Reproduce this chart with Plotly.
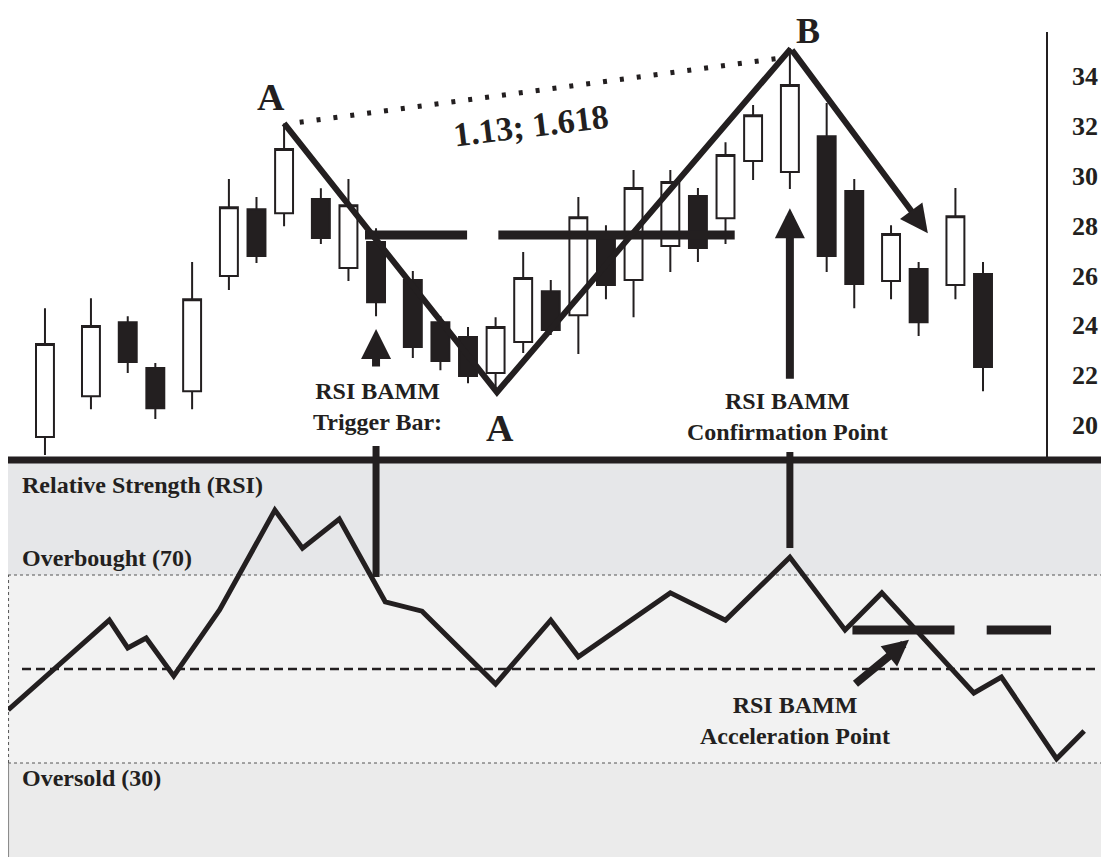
import plotly.graph_objects as go

INK = '#231f20'
FONT = 'Times New Roman, Liberation Serif, serif'

# candles: day index, open, high, low, close
days = [0, 5, 9, 12, 16, 20, 23, 26, 30, 33, 36, 40, 43, 46, 49, 52,
        55, 58, 61, 64, 68, 71, 74, 77, 81, 85, 88, 92, 95, 99, 102]
opens = [19.52, 21.16, 24.13, 22.29, 21.36, 25.98, 28.66, 28.50, 29.07, 26.30, 27.34,
         25.82, 24.13, 23.53, 22.09, 23.33, 25.37, 24.41, 27.74, 25.82, 27.18, 29.19,
         28.30, 30.59, 30.15, 31.59, 29.39, 25.78, 26.26, 25.62, 26.06]
highs = [24.69, 25.09, 24.37, 22.49, 26.54, 29.87, 29.15, 32.10, 29.50, 29.87, 27.90,
         26.18, 24.37, 23.93, 24.33, 26.94, 25.82, 29.15, 28.02, 30.23, 30.23, 29.51,
         31.35, 32.84, 35.12, 32.92, 29.87, 28.02, 26.54, 29.51, 26.54]
lows = [18.80, 20.64, 22.09, 20.24, 20.64, 25.42, 26.50, 27.98, 27.26, 25.78, 24.37,
        22.69, 22.20, 21.68, 21.50, 22.89, 23.61, 22.85, 25.05, 24.33, 26.14, 26.54,
        27.26, 29.83, 29.47, 26.14, 24.69, 25.05, 23.57, 25.05, 21.36]
closes = [23.25, 23.97, 22.53, 20.68, 25.05, 28.74, 26.78, 31.07, 27.50, 28.82, 24.93,
          23.13, 22.57, 21.97, 23.93, 25.90, 23.81, 28.34, 25.62, 29.51, 29.75, 27.10,
          30.83, 32.43, 33.64, 26.78, 25.66, 27.66, 24.13, 28.38, 22.33]
price_ticks = [20, 22, 24, 26, 28, 30, 32, 34]

# RSI line
rsi_days = [-4, 7, 9, 11, 14, 19, 25, 28, 32, 37, 41, 49, 55, 58, 68, 74,
            81, 87, 91, 101, 104, 110, 113]
rsi_vals = [41.3, 60.4, 54.5, 56.6, 48.5, 62.6, 83.8, 75.7, 81.9, 64.3, 62.3, 46.8,
            60.4, 52.6, 66.2, 60.4, 73.8, 58.3, 66.2, 44.9, 48.3, 30.9, 36.8]
overbought, oversold, midline = 70, 30, 50

# pattern points (A - A - B) and guide levels
pattern_x = [26, 49.15, 81.1]
pattern_y = [32.1, 21.32, 35.1]
ratio_x = [27.7, 79.9]
ratio_y = [32.15, 34.72]
trigger_level = 27.62
trigger_x = [34.8, 45.9, None, 49.3, 75.0]
accel_level = 58.3
accel_x = [87.8, 98.9, None, 102.4, 109.4]

# page body has an 8px margin, so the figure sits at (8, 8)
W, H = 1101, 849


def px(x):
    return (x - 8) / W


def py(y):
    return (857 - y) / H


xr = [-4.02, 115.70]
split = py(460)

fig = go.Figure()

fig.add_trace(go.Candlestick(
    x=days, open=opens, high=highs, low=lows, close=closes,
    increasing=dict(line=dict(color=INK, width=2), fillcolor='white'),
    decreasing=dict(line=dict(color=INK, width=2), fillcolor=INK),
    whiskerwidth=0, xaxis='x', yaxis='y', hoverinfo='skip'))

fig.add_trace(go.Scatter(x=ratio_x, y=ratio_y, mode='lines',
                         line=dict(color=INK, width=5, dash='4px,13px'),
                         xaxis='x', yaxis='y', hoverinfo='skip'))
fig.add_trace(go.Scatter(x=trigger_x, y=[trigger_level if v is not None else None for v in trigger_x],
                         mode='lines', line=dict(color=INK, width=9),
                         xaxis='x', yaxis='y', hoverinfo='skip'))
fig.add_trace(go.Scatter(x=pattern_x, y=pattern_y, mode='lines',
                         line=dict(color=INK, width=6),
                         xaxis='x', yaxis='y', hoverinfo='skip'))

fig.add_trace(go.Scatter(x=rsi_days, y=rsi_vals, mode='lines',
                         line=dict(color=INK, width=5),
                         xaxis='x2', yaxis='y2', hoverinfo='skip'))
fig.add_trace(go.Scatter(x=accel_x, y=[accel_level if v is not None else None for v in accel_x],
                         mode='lines', line=dict(color=INK, width=9),
                         xaxis='x2', yaxis='y2', hoverinfo='skip'))

shapes = [
    dict(type='rect', xref='paper', yref='y2', x0=0, x1=1, y0=overbought, y1=94.5,
         fillcolor='#e6e7e9', line_width=0, layer='below'),
    dict(type='rect', xref='paper', yref='y2', x0=0, x1=1, y0=oversold, y1=overbought,
         fillcolor='#f2f2f2', line_width=0, layer='below'),
    dict(type='rect', xref='paper', yref='y2', x0=0, x1=1, y0=9, y1=oversold,
         fillcolor='#ebebeb', line_width=0, layer='below'),
    dict(type='line', xref='paper', yref='y2', x0=0, x1=1, y0=overbought, y1=overbought,
         line=dict(color='#555', width=1, dash='dot'), layer='below'),
    dict(type='line', xref='paper', yref='y2', x0=0, x1=1, y0=oversold, y1=oversold,
         line=dict(color='#555', width=1, dash='dot'), layer='below'),
    dict(type='line', xref='paper', yref='y2', x0=0.0005, x1=0.0005, y0=oversold, y1=overbought,
         line=dict(color='#555', width=1, dash='dot'), layer='below'),
    dict(type='line', xref='paper', yref='y2', x0=0.0005, x1=0.0005, y0=9, y1=oversold,
         line=dict(color='#888', width=1), layer='below'),
    dict(type='line', xref='paper', yref='y2', x0=px(22), x1=px(1099), y0=midline, y1=midline,
         line=dict(color=INK, width=2.5, dash='9px,5px'), layer='below'),
    dict(type='line', xref='paper', yref='paper', x0=0, x1=1, y0=split, y1=split,
         line=dict(color=INK, width=7)),
    dict(type='line', xref='paper', yref='paper', x0=px(1047), x1=px(1047),
         y0=split, y1=py(32), line=dict(color=INK, width=2)),
    dict(type='line', xref='x', yref='paper', x0=36, x1=36,
         y0=py(577), y1=py(446), line=dict(color=INK, width=7)),
    dict(type='line', xref='x', yref='paper', x0=81, x1=81,
         y0=py(548), y1=py(452), line=dict(color=INK, width=7)),
]


def arrow(x, y, ax, ay, width, size, xref='x', yref='y'):
    return dict(x=x, y=y, ax=ax, ay=ay, xref=xref, yref=yref, axref=xref, ayref=yref,
                text='', showarrow=True, arrowhead=2, arrowwidth=width, arrowsize=size,
                arrowcolor=INK, standoff=0)


def label(text, x, y, size, xref='x', yref='y', xanchor='center', angle=0):
    return dict(text=text, x=x, y=y, xref=xref, yref=yref, showarrow=False,
                xanchor=xanchor, yanchor='middle', textangle=angle,
                font=dict(family=FONT, size=size, color=INK))


annotations = [
    arrow(36, 23.85, 36, 22.29, 8, 0.75),
    arrow(81, 28.70, 81, 21.8, 8, 0.75),
    arrow(96.0, 27.7, 81.1, 35.1, 6, 0.93),
    arrow(93.95, 56.2, 87.97, 46.6, 8, 0.65, 'x2', 'y2'),
    label('<b>A</b>', 24.6, 33.16, 38),
    label('<b>A</b>', 49.5, 19.88, 38),
    label('<b>B</b>', px(808), py(31), 36, 'paper', 'paper'),
    label('<b>1.13; 1.618</b>', 52.85, 32.03, 34, angle=-7),
    label('<b>RSI BAMM<br>Trigger Bar:</b>', 36.2, 20.76, 24),
    label('<b>RSI BAMM<br>Confirmation Point</b>', 80.7, 20.36, 24),
    label('<b>RSI BAMM<br>Acceleration Point</b>', 81.56, 39.15, 24, 'x2', 'y2'),
    label('<b>Relative Strength (RSI)</b>', px(20), py(485), 24, 'paper', 'paper', 'left'),
    label('<b>Overbought (70)</b>', px(20), py(558), 24, 'paper', 'paper', 'left'),
    label('<b>Oversold (30)</b>', px(20), py(778), 24, 'paper', 'paper', 'left'),
]

fig.update_layout(
    width=W, height=H,
    margin=dict(l=0, r=0, t=0, b=0),
    paper_bgcolor='white', plot_bgcolor='rgba(0,0,0,0)',
    showlegend=False, boxgap=0.35, boxgroupgap=0,
    xaxis=dict(domain=[0, 1], range=xr, visible=False, anchor='y',
               rangeslider=dict(visible=False), fixedrange=True),
    yaxis=dict(domain=[split, 1], range=[18.6, 36.73], side='right', anchor='free',
               position=px(1047), tickvals=price_ticks, showgrid=False, zeroline=False,
               showline=False, ticks='', ticklabelstandoff=24,
               tickfont=dict(family=FONT, size=26, color=INK, weight='bold')),
    xaxis2=dict(domain=[0, 1], range=xr, visible=False, anchor='y2'),
    yaxis2=dict(domain=[0, split], range=[10, 94.47], visible=False, anchor='x2'),
    shapes=shapes,
    annotations=annotations,
)

fig.write_html("out.html")
